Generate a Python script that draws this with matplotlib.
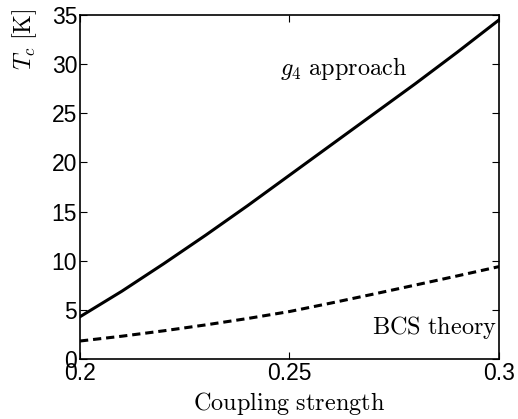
import matplotlib
matplotlib.use("Agg")
import matplotlib.pyplot as plt

plt.rcParams['mathtext.fontset'] = 'cm'

# coupling strength and critical temperatures
coupling = [0.20, 0.21, 0.22, 0.23, 0.24, 0.25, 0.26, 0.27, 0.28, 0.29, 0.30]
tc_g4 = [4.3, 6.9, 9.7, 12.6, 15.6, 18.7, 21.8, 24.9, 28.0, 31.2, 34.5]
tc_bcs = [1.83, 2.32, 2.87, 3.47, 4.12, 4.83, 5.70, 6.60, 7.52, 8.45, 9.40]

xticks = [0.2, 0.25, 0.3]
xticklabels = ['0.2', '0.25', '0.3']
yticks = [0, 5, 10, 15, 20, 25, 30, 35]

fig = plt.figure(figsize=(5.18, 4.19), dpi=100)
ax = fig.add_axes([80 / 518, 1 - 359 / 419, 419 / 518, 344 / 419])

ax.plot(coupling, tc_g4, color='black', lw=2.2)
ax.plot(coupling, tc_bcs, color='black', lw=2.2, ls=(0, (2.7, 1.6)))

ax.set_xlim(0.2, 0.3)
ax.set_ylim(0, 35)
ax.set_xticks(xticks)
ax.set_xticklabels(xticklabels)
ax.set_yticks(yticks)
ax.tick_params(direction='in', length=5, width=0.8, top=True, right=True,
               labelsize=16.5, pad=2)
for lab in ax.get_xticklabels() + ax.get_yticklabels():
    lab.set_family('Liberation Sans')
for s in ax.spines.values():
    s.set_linewidth(1.2)

ax.set_xlabel(r'$\mathrm{Coupling\ strength}$', fontsize=17.5, labelpad=4)
ax.set_ylabel(r'$T_c\ [\mathrm{K}]$', fontsize=17.5)
ax.yaxis.set_label_coords(-0.098, 0.93)

ax.text(0.2477, 29.6, r'$g_4\ \mathrm{approach}$', fontsize=17.5, va='center')
ax.text(0.2697, 3.2, r'$\mathrm{BCS\ theory}$', fontsize=17.5, va='center')

fig.savefig('out.png', dpi=100)
